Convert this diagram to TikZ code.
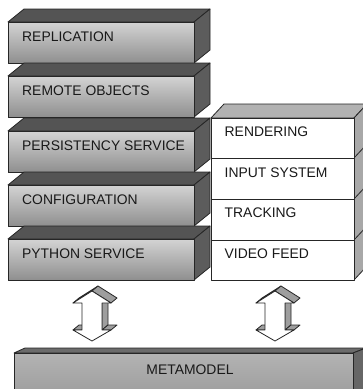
\documentclass[tikz,border=0pt]{standalone}
\usepackage{fontspec}
\setmainfont{Liberation Sans}
\definecolor{boxtop}{gray}{0.33}
\definecolor{boxside}{gray}{0.36}
\definecolor{frontlight}{gray}{0.83}
\definecolor{frontdark}{gray}{0.56}
\definecolor{wtop}{gray}{0.70}
\definecolor{wside}{gray}{0.66}
\definecolor{mfrontlight}{gray}{0.70}
\definecolor{mfrontdark}{gray}{0.62}
\definecolor{mtop}{gray}{0.42}
\definecolor{mside}{gray}{0.40}
\definecolor{arrside}{gray}{0.62}
\definecolor{edgec}{gray}{0.15}
\tikzset{
  edge/.style={draw=edgec, line width=0.8pt, line join=round},
  lbl/.style={anchor=base west, inner sep=0pt, font=\fontsize{13.9}{16}\selectfont, text=black!90},
  clbl/.style={anchor=base, inner sep=0pt, font=\fontsize{13.9}{16}\selectfont, text=black!90},
}
\newcommand\lbox[3]{% #1 front top y, #2 node name, #3 text
  \path[edge, fill=boxtop] (8,#1) -- (24,#1-13) -- (210,#1-13) -- (194,#1) -- cycle;
  \path[edge, fill=boxside] (194,#1) -- (210,#1-13) -- (210,#1+28) -- (194,#1+41) -- cycle;
  \path[edge, top color=frontlight, bottom color=frontdark] (8,#1) rectangle (194,#1+41);
  \node[lbl] (#2) at (22,#1+19.5) {#3};
}
\newcommand\udarrow[2]{% #1 centre x, #2 name
  \coordinate (#2) at (#1,316);
  \begin{scope}[shift={(#1,0)}]
    \path[edge, fill=arrside] (10,303) -- (10,330) -- (16,325) -- (16,298) -- cycle;
    \path[edge, fill=arrside] (10,330) -- (19,330) -- (25,325) -- (16,325) -- cycle;
    \path[edge, fill=arrside] (-19,330) -- (-10,330) -- (-4,325) -- (-13,325) -- cycle;
    \path[edge, fill=arrside] (-19,303) -- (0,291) -- (6,286) -- (-13,298) -- cycle;
    \path[edge, fill=arrside] (0,291) -- (19,303) -- (25,298) -- (6,286) -- cycle;
    \path[edge, fill=white] (0,291) -- (19,303) -- (10,303) -- (10,330) -- (19,330)
      -- (0,341) -- (-19,330) -- (-10,330) -- (-10,303) -- (-19,303) -- cycle;
  \end{scope}
}
\begin{document}
\begin{tikzpicture}[x=1pt, y=-1pt]
  \useasboundingbox (0,0) rectangle (363,389);
  \clip (0,0) rectangle (363,389);
  \fill[white] (0,0) rectangle (363,389);

  % left stack
  \lbox{22}{repl}{REPLICATION}
  \lbox{76}{remote}{REMOTE OBJECTS}
  \lbox{131}{persist}{PERSISTENCY SERVICE}
  \lbox{185}{config}{CONFIGURATION}
  \lbox{239}{python}{PYTHON SERVICE}

  % right stack
  \path[edge, fill=wtop] (211,118) -- (224,104) -- (367,104) -- (354,118) -- cycle;
  \path[edge, fill=wside] (354,118) -- (367,104) -- (367,266) -- (354,280) -- cycle;
  \draw[edge] (354,158) -- (367,144);
  \draw[edge] (354,199) -- (367,185);
  \draw[edge] (354,240) -- (367,226);
  \path[edge, fill=white] (211,118) rectangle (354,280);
  \draw[edge] (211,158) -- (354,158);
  \draw[edge] (211,199) -- (354,199);
  \draw[edge] (211,240) -- (354,240);
  \node[lbl] (render) at (224.5,136.5) {RENDERING};
  \node[lbl] (input) at (224.5,177) {INPUT SYSTEM};
  \node[lbl] (track) at (224.5,217.5) {TRACKING};
  \node[lbl] (video) at (224.5,258) {VIDEO FEED};

  % arrows
  \udarrow{92}{arrL}
  \udarrow{275}{arrR}

  % metamodel
  \path[edge, fill=mtop] (14,353) -- (25,348) -- (366,348) -- (353,353) -- cycle;
  \path[edge, fill=mside] (353,353) -- (366,348) -- (366,395) -- (353,395) -- cycle;
  \path[edge, top color=mfrontlight, bottom color=mfrontdark] (14,353) rectangle (353,395);
  \node[clbl] (meta) at (190,374) {METAMODEL};
\end{tikzpicture}
\end{document}
